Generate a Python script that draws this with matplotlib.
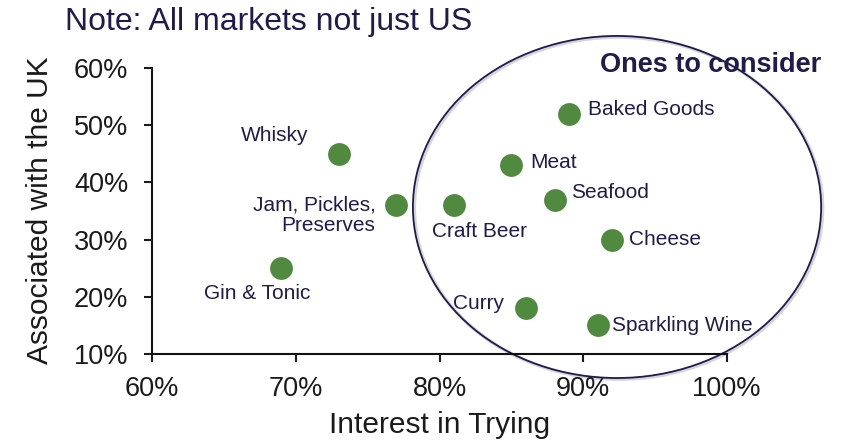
import matplotlib
matplotlib.use('Agg')
import matplotlib.pyplot as plt
from matplotlib.patches import Ellipse
from matplotlib.ticker import FuncFormatter

# chart values
categories = ['Whisky', 'Jam, Pickles,\nPreserves', 'Craft Beer', 'Gin & Tonic', 'Baked Goods',
              'Meat', 'Seafood', 'Cheese', 'Curry', 'Sparkling Wine']
interest = [73, 77, 81, 69, 89, 85, 88, 92, 86, 91]
associated = [45, 36, 36, 25, 52, 43, 37, 30, 18, 15]
x_ticks = [60, 70, 80, 90, 100]
y_ticks = [10, 20, 30, 40, 50, 60]

# label offsets in pixels (dx, dy, ha)
label_pos = {
    'Whisky': (-30, 18, 'right'),
    'Jam, Pickles,\nPreserves': (-21, -10, 'right'),
    'Craft Beer': (26, -26, 'center'),
    'Gin & Tonic': (-24, -25, 'center'),
    'Baked Goods': (19, 4, 'left'),
    'Meat': (19, 3, 'left'),
    'Seafood': (17, 7, 'left'),
    'Cheese': (17, 0, 'left'),
    'Curry': (-22, 5, 'right'),
    'Sparkling Wine': (14, 0, 'left'),
}

navy = '#1f1b4d'
green = '#4f8a3f'

plt.rcParams['font.family'] = ['Liberation Sans', 'DejaVu Sans']

fig = plt.figure(figsize=(8.42, 4.42), dpi=100)
ax = fig.add_axes([152 / 842, 1 - 354 / 442, 575 / 842, 286 / 442])

ax.scatter(interest, associated, s=270, color=green, zorder=3, linewidths=0)

for name, x, y in zip(categories, interest, associated):
    dx, dy, ha = label_pos[name]
    ax.annotate(name, (x, y), xytext=(dx, dy), textcoords='offset pixels',
                ha=ha, va='center', fontsize=15, color=navy, zorder=4,
                linespacing=1.1, multialignment='right')

# circle of "ones to consider"
shadow = Ellipse((92.45, 35.5), 28.4, 59.8, fill=False, edgecolor='#b8b8c0',
                 linewidth=2.5, clip_on=False, zorder=1, alpha=0.6)
ax.add_patch(shadow)
ell = Ellipse((92.35, 35.7), 28.4, 59.8, fill=False, edgecolor=navy,
              linewidth=1.3, clip_on=False, zorder=2)
ax.add_patch(ell)

ax.set_xlim(60, 100)
ax.set_ylim(10, 60)
ax.set_xticks(x_ticks)
ax.set_yticks(y_ticks)
pct = FuncFormatter(lambda v, p: f'{v:.0f}%')
ax.xaxis.set_major_formatter(pct)
ax.yaxis.set_major_formatter(pct)
ax.tick_params(labelsize=19.5, colors='#1a1a1a', length=6, width=1.5)
ax.tick_params(axis='x', pad=9.5)
ax.tick_params(axis='y', pad=11)

for s in ['top', 'right']:
    ax.spines[s].set_visible(False)
for s in ['left', 'bottom']:
    ax.spines[s].set_linewidth(1.5)
    ax.spines[s].set_color('#111111')

fig.text(65 / 842, 1 - 22 / 442, 'Note: All markets not just US', fontsize=23,
         color=navy, va='center', ha='left')
fig.text(600 / 842, 1 - 65 / 442, 'Ones to consider', fontsize=19.5,
         fontweight='bold', color=navy, va='center', ha='left')
fig.text(440 / 842, 1 - 425 / 442, 'Interest in Trying', fontsize=21.5,
         color='#1a1a1a', va='center', ha='center')
fig.text(40 / 842, 1 - 210 / 442, 'Associated with the UK', fontsize=21.5,
         color='#1a1a1a', va='center', ha='center', rotation=90)

fig.savefig('out.png', dpi=100)
